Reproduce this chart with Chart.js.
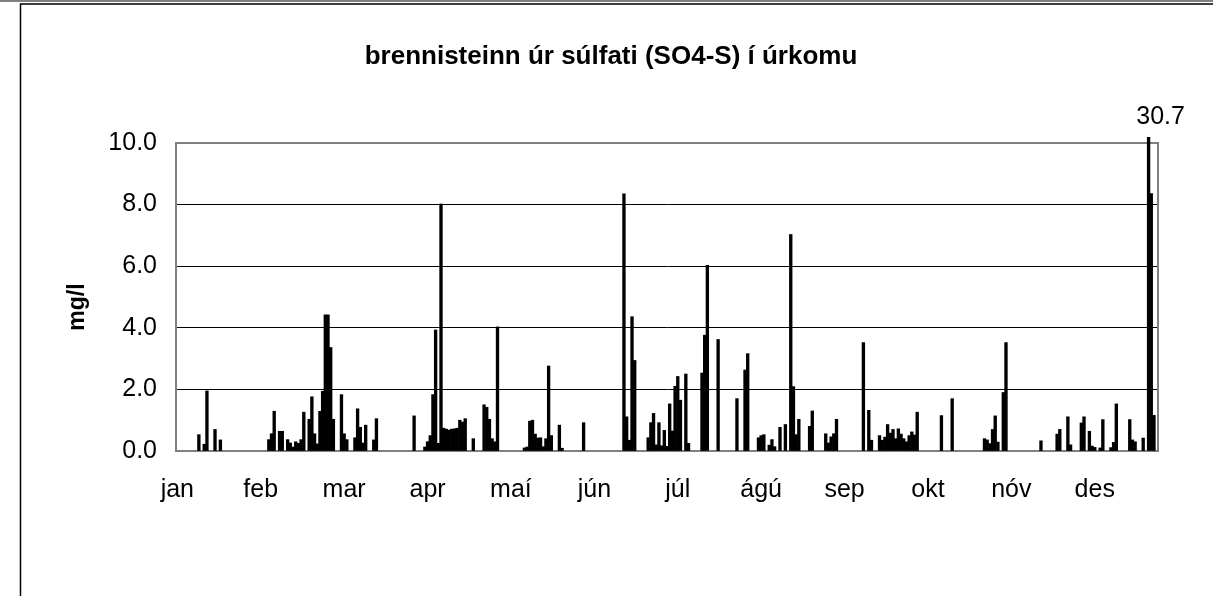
<!DOCTYPE html>
<html>
<head>
<meta charset="utf-8">
<script src="https://cdn.jsdelivr.net/npm/chart.js@4/dist/chart.umd.min.js"></script>
<style>
  body { margin: 0; background: #fff; }
  canvas { display: block; }
</style>
</head>
<body>
<canvas id="sulfurChart" width="1213" height="596"></canvas>
<script>
// daily values (mg/l) per month, null = no sample
const jan = [null, null, null, null, null, null, null, null, 0.53, null, 0.22, 1.95, null, null, 0.7, null, 0.36,
  null, null, null, null, null, null, null, null, null, null, null, null, null, null];
const feb = [null, null, null, 0.37, 0.56, 1.29, null, 0.64, 0.64, null, 0.37, 0.26, 0.13, 0.3, 0.25, 0.37, 1.26,
  null, 1.03, 1.76, 0.56, 0.23, 1.29, 1.94, 4.42, 4.42, 3.36, 1.03];
const mar = [null, null, 1.83, 0.56, 0.37, null, null, 0.43, 1.37, 0.77, 0.26, 0.84, null, null, 0.36, 1.05,
  null, null, null, null, null, null, null, null, null, null, null, null, null, 1.14, null];
const apr = [null, null, 0.13, 0.3, 0.5, 1.83, 3.93, 0.25, 8.02, 0.74, 0.71, 0.68, 0.71, 0.72, 0.74, 1.0, 0.94,
  1.05, null, null, 0.4, null, null, null, 1.5, 1.42, 1.03, 0.4, 0.3, 4.03];
const mai = [null, null, null, null, null, null, null, null, null, 0.1, 0.13, 0.97, 1.0, 0.55, 0.42, 0.43, 0.14,
  0.4, 2.76, 0.5, null, null, 0.84, 0.09, null, null, null, null, null, null, null];
const jun = [0.92, null, null, null, null, null, null, null, null, null, null, null, null, null, null, 8.35, 1.11,
  0.35, 4.36, 2.94, null, null, null, null, 0.43, 0.92, 1.22, 0.2, 0.92, 0.17];
const jul = [0.67, 0.15, 1.53, 0.65, 2.1, 2.42, 1.65, null, 2.5, 0.25, null, null, null, null, 2.53, 3.76, 6.03,
  null, null, null, 3.62, null, null, null, null, null, null, 1.7, null, null, 2.63];
const agu = [3.16, null, null, null, 0.43, 0.5, 0.53, null, 0.19, 0.37, 0.14, null, 0.77, null, 0.86, null, 7.03,
  2.09, 0.53, 1.03, null, null, null, 0.8, 1.3, null, null, null, null, 0.56, 0.26];
const sep = [0.46, 0.56, 1.03, null, null, null, null, null, null, null, null, null, 3.52, null, 1.32, 0.35, null,
  null, 0.5, 0.35, 0.45, 0.86, 0.58, 0.7, 0.4, 0.72, 0.55, 0.4, 0.3, 0.5];
const okt = [0.62, 0.52, 1.26, null, null, null, null, null, null, null, null, 1.15, null, null, null, 1.7, null,
  null, null, null, null, null, null, null, null, null, null, 0.4, 0.36, 0.24, 0.7];
const nov = [1.14, 0.29, null, 1.9, 3.52, null, null, null, null, null, null, null, null, null, null, null, null,
  0.33, null, null, null, null, null, 0.55, 0.7, null, null, 1.11, 0.2, null];
const des = [null, null, 0.91, 1.11, null, 0.64, 0.16, 0.12, null, 0.1, 1.02, null, null, 0.11, 0.28, 1.53, null,
  null, null, null, 1.02, 0.36, 0.3, null, null, 0.42, null, 30.7, 8.36, 1.16, null];

const monthLabels = ['jan', 'feb', 'mar', 'apr', 'maí', 'jún', 'júl', 'ágú', 'sep', 'okt', 'nóv', 'des'];
const yTicks = [0, 2, 4, 6, 8, 10];
const yMax = 10;
const chartTitle = 'brennisteinn úr súlfati (SO4-S) í úrkomu';
const yTitle = 'mg/l';

const values = [].concat(jan, feb, mar, apr, mai, jun, jul, agu, sep, okt, nov, des);
const days = values.map((v, i) => i + 1);
const labelEvery = 31;

const font = "'Liberation Sans', Arial, sans-serif";

// white page with the outer frame lines
const frame = {
  id: 'frame',
  beforeDraw(chart) {
    const c = chart.ctx;
    c.save();
    c.fillStyle = '#fff';
    c.fillRect(0, 0, chart.width, chart.height);
    c.strokeStyle = '#808080';
    c.lineWidth = 2;
    c.beginPath();
    c.moveTo(0, 1);
    c.lineTo(chart.width, 1);
    c.stroke();
    c.strokeStyle = '#000';
    c.lineWidth = 1.5;
    c.beginPath();
    c.moveTo(20.5, chart.height);
    c.lineTo(20.5, 4);
    c.lineTo(chart.width, 4);
    c.stroke();
    c.restore();
  },
  afterDraw(chart) {
    const c = chart.ctx;
    c.save();
    c.fillStyle = '#000';
    c.textAlign = 'center';
    c.textBaseline = 'middle';
    c.font = 'bold 26px ' + font;
    c.fillText(chartTitle, 611, 57);
    c.translate(78, 307);
    c.rotate(-Math.PI / 2);
    c.font = 'bold 23px ' + font;
    c.fillText(yTitle, 0, 0);
    c.restore();
  }
};

// gray plot area border, drawn under the bars
const plotBorder = {
  id: 'plotBorder',
  beforeDatasetsDraw(chart) {
    const a = chart.chartArea;
    const c = chart.ctx;
    c.save();
    c.strokeStyle = '#808080';
    c.lineWidth = 2;
    c.strokeRect(a.left, a.top, a.right - a.left, a.bottom - a.top);
    c.restore();
  }
};

// label for values that go past the axis max
const overLabel = {
  id: 'overLabel',
  afterDatasetsDraw(chart) {
    const meta = chart.getDatasetMeta(0);
    const c = chart.ctx;
    c.save();
    c.font = '25px ' + font;
    c.fillStyle = '#000';
    c.textAlign = 'center';
    c.textBaseline = 'middle';
    values.forEach((v, i) => {
      if (v != null && v > yMax) {
        const el = meta.data[i];
        c.fillText(v.toFixed(1), el.x + 12, chart.chartArea.top - 26);
      }
    });
    c.restore();
  }
};

new Chart(document.getElementById('sulfurChart'), {
  type: 'bar',
  data: {
    labels: days,
    datasets: [{
      data: values,
      backgroundColor: '#000',
      borderWidth: 0,
      barPercentage: 1,
      categoryPercentage: 1,
      clip: { left: 0, top: 6, right: 0, bottom: 0 }
    }]
  },
  options: {
    responsive: false,
    animation: false,
    devicePixelRatio: 1,
    layout: { padding: { left: 20, right: 55, top: 143, bottom: 0 } },
    plugins: {
      legend: { display: false },
      tooltip: { enabled: false },
      title: { display: false }
    },
    scales: {
      x: {
        grid: { display: false, drawTicks: false },
        border: { color: '#808080', width: 2 },
        afterFit(s) { s.height = 145; },
        afterBuildTicks(s) { s.ticks = s.ticks.filter(t => t.value % labelEvery === 0); },
        ticks: {
          autoSkip: false,
          maxRotation: 0,
          minRotation: 0,
          padding: 24,
          color: '#000',
          font: { family: font, size: 25 },
          callback: v => monthLabels[v / labelEvery]
        }
      },
      y: {
        min: 0,
        max: yMax,
        afterFit(s) { s.width = 156; },
        afterBuildTicks(s) { s.ticks = yTicks.map(v => ({ value: v })); },
        grid: { color: '#000', lineWidth: 1, drawTicks: false },
        border: { color: '#808080', width: 2 },
        ticks: {
          padding: 19,
          color: '#000',
          font: { family: font, size: 25 },
          callback: v => v.toFixed(1)
        }
      }
    }
  },
  plugins: [frame, plotBorder, overLabel]
});
</script>
</body>
</html>
